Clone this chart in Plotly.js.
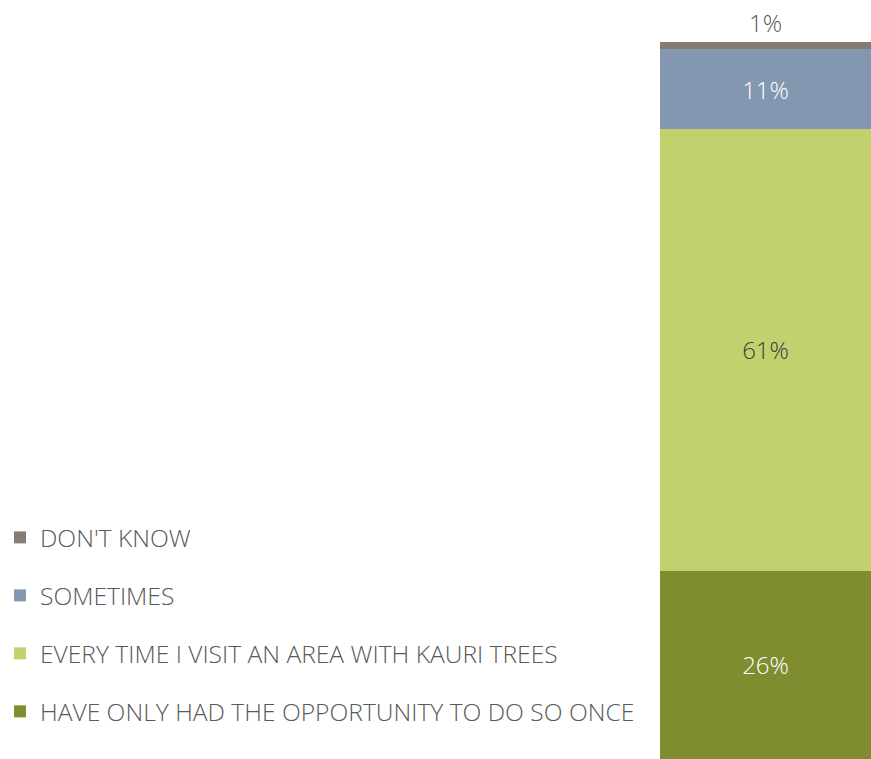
<!DOCTYPE html>
<html><head><meta charset="utf-8">
<script src="https://cdn.plot.ly/plotly-3.0.1.min.js"></script>
<style>html,body{margin:0;padding:0;background:#fff}</style>
</head><body><div id="chart" style="width:871px;height:759px"></div>
<script>
const category = [""];
const seriesNames = ["HAVE ONLY HAD THE OPPORTUNITY TO DO SO ONCE", "EVERY TIME I VISIT AN AREA WITH KAURI TREES", "SOMETIMES", "DON'T KNOW"];
const onceValues = [26];
const everyTimeValues = [61];
const sometimesValues = [11];
const dontKnowValues = [1];
const seriesValues = [onceValues, everyTimeValues, sometimesValues, dontKnowValues];
const colors = ["#7F8C30", "#C2D16E", "#8497B0", "#857D75"];
const textColors = ["#FFFFFF", "#404040", "#FFFFFF", "#595959"];
const positions = ["inside", "inside", "inside", "outside"];

const traces = seriesNames.map((name, i) => {
  const f = {family: "Open Sans", size: 24, color: textColors[i], weight: 300};
  return {
    type: "bar",
    name: name,
    x: category,
    y: seriesValues[i],
    width: 1,
    marker: {color: colors[i], line: {width: 0}},
    texttemplate: "%{y}%",
    textposition: positions[i],
    insidetextanchor: "middle",
    textfont: f,
    outsidetextfont: f,
    insidetextfont: f,
    cliponaxis: false,
    legendgroup: "g" + i,
    legendrank: 4 - i,
    hoverinfo: "skip"
  };
});

const layout = {
  width: 871, height: 759,
  margin: {l: 0, r: 0, t: 0, b: 0},
  paper_bgcolor: "#fff", plot_bgcolor: "#fff",
  barmode: "stack",
  showlegend: true,
  uniformtext: {mode: false},
  xaxis: {domain: [0.7578, 1], range: [-0.5, 0.5], visible: false, fixedrange: true},
  yaxis: {range: [0, 104.8], visible: false, fixedrange: true},
  legend: {
    x: 0, xanchor: "left", y: 0.3216, yanchor: "top",
    traceorder: "grouped", tracegroupgap: 23,
    font: {family: "Open Sans", size: 24.6, color: "#595959", weight: 300},
    bgcolor: "rgba(0,0,0,0)", itemclick: false, itemdoubleclick: false
  }
};
Plotly.newPlot("chart", traces, layout, {staticPlot: true, displayModeBar: false});
</script></body></html>
